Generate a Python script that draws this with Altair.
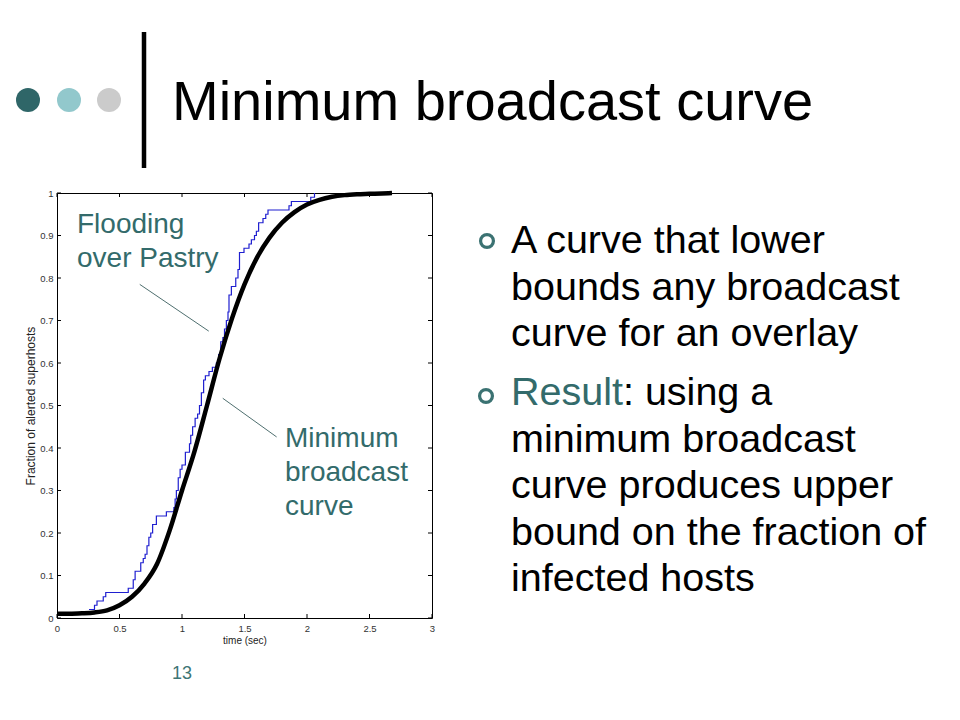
import altair as alt
import pandas as pd

# ---------------- data ----------------
# Minimum broadcast curve (thick black)
mbc_t = [0, 0.1, 0.2, 0.3, 0.4, 0.5, 0.6, 0.7, 0.8, 0.9, 1.0, 1.1, 1.2, 1.3,
         1.4, 1.5, 1.6, 1.7, 1.8, 1.9, 2.0, 2.1, 2.2, 2.3, 2.4, 2.5, 2.6, 2.68]
mbc_f = [0.010, 0.010, 0.011, 0.013, 0.018, 0.030, 0.050, 0.081, 0.127, 0.205,
         0.300, 0.392, 0.500, 0.610, 0.705, 0.785, 0.848, 0.895, 0.930, 0.955,
         0.973, 0.984, 0.991, 0.995, 0.997, 0.998, 0.999, 1.000]

# Flooding over Pastry (thin blue staircase)
flood_t = [0.256, 0.30, 0.32, 0.37, 0.39, 0.57, 0.61, 0.625, 0.67, 0.69, 0.705,
           0.72, 0.735, 0.75, 0.765, 0.795, 0.875, 0.935, 0.945, 0.955, 0.97,
           0.985, 1.0, 1.027, 1.06, 1.07, 1.085, 1.105, 1.125, 1.14, 1.155,
           1.173, 1.187, 1.216, 1.243, 1.275, 1.293, 1.31, 1.327, 1.34, 1.355,
           1.368, 1.376, 1.395, 1.43, 1.448, 1.46, 1.496, 1.536, 1.555, 1.58,
           1.595, 1.613, 1.648, 1.67, 1.688, 1.856, 1.875, 2.03, 2.06]
flood_f = [0.02, 0.03, 0.04, 0.05, 0.06, 0.07, 0.09, 0.11, 0.13, 0.14, 0.15,
           0.17, 0.19, 0.20, 0.22, 0.24, 0.25, 0.26, 0.28, 0.30, 0.33,
           0.35, 0.36, 0.39, 0.41, 0.43, 0.45, 0.47, 0.48, 0.50, 0.53,
           0.56, 0.57, 0.58, 0.59, 0.60, 0.62, 0.65, 0.66, 0.68, 0.70,
           0.72, 0.76, 0.78, 0.80, 0.82, 0.86, 0.87, 0.88, 0.89, 0.90,
           0.91, 0.93, 0.94, 0.95, 0.96, 0.97, 0.98, 0.99, 1.00]

x_ticks = [0, 0.5, 1, 1.5, 2, 2.5, 3]
y_ticks = [0, 0.1, 0.2, 0.3, 0.4, 0.5, 0.6, 0.7, 0.8, 0.9, 1]

# annotation leader lines (data units)
ann_x1 = [0.662, 1.326]
ann_y1 = [0.785, 0.517]
ann_x2 = [1.214, 1.757]
ann_y2 = [0.675, 0.426]

# texts
slide_title = "Minimum broadcast curve"
label_flood = ["Flooding", "over Pastry"]
label_min = ["Minimum", "broadcast", "curve"]
bullet1 = ["A curve that lower", "bounds any broadcast", "curve for an overlay"]
bullet2_head = "Result"
bullet2_first = ": using a"
bullet2_rest = ["minimum broadcast", "curve produces upper",
                "bound on the fraction of", "infected hosts"]
page_no = "13"
x_title = "time (sec)"
y_title = "Fraction of alerted superhosts"

# ---------------- layout ----------------
W, H = 375, 425          # plot area
LEFT, TOP = 57, 193      # page position of plot area
FONT = "Liberation Sans"
TEAL = "#336b6b"
LH = 46.5
BFS = 39.5               # bullet font size


def X(px):
    return px - LEFT


def Y(py):
    return py - TOP


one = pd.DataFrame({"k": [0]})


def text_layer(txt, x, y, size, color, lh=None):
    kw = dict(text=txt, align="left", baseline="alphabetic", font=FONT,
              fontSize=size, color=color)
    if lh is not None:
        kw["lineHeight"] = lh
    return alt.Chart(one).mark_text(**kw).encode(
        x=alt.value(X(x)), y=alt.value(Y(y)))


xs = alt.Scale(domain=[0, 3], nice=False, zero=False)
ys = alt.Scale(domain=[0, 1], nice=False, zero=False)

xaxis = alt.Axis(values=x_ticks, format="~g", ticks=False, tickSize=0,
                 domain=False, grid=False, labelFlush=False, labelOverlap=False,
                 labelPadding=5, labelFontSize=9.5, labelColor="#333333",
                 labelFont=FONT, title=x_title, titleFont=FONT,
                 titleFontSize=10, titleFontWeight="normal",
                 titleColor="#222222", titlePadding=3)
yaxis = alt.Axis(values=y_ticks, format="~g", ticks=False, tickSize=0,
                 domain=False, grid=False, labelFlush=False, labelOverlap=False,
                 labelPadding=4, labelFontSize=9.5, labelColor="#333333",
                 labelFont=FONT, title=y_title, titleFont=FONT,
                 titleFontSize=12, titleFontWeight="normal",
                 titleColor="#222222", titlePadding=2)

mbc_df = pd.DataFrame({"t": mbc_t, "f": mbc_f})
flood_df = pd.DataFrame({"t": flood_t, "f": flood_f})
xt_df = pd.DataFrame({"v": x_ticks})
yt_df = pd.DataFrame({"v": y_ticks})
ann_df = pd.DataFrame({"x1": ann_x1, "y1": ann_y1, "x2": ann_x2, "y2": ann_y2})

flood = alt.Chart(flood_df).mark_line(
    interpolate="step-after", color="#1f1fd0", strokeWidth=1.2
).encode(x=alt.X("t:Q", scale=xs, axis=xaxis),
         y=alt.Y("f:Q", scale=ys, axis=yaxis))

curve = alt.Chart(mbc_df).mark_line(
    interpolate="monotone", color="black", strokeWidth=4.5
).encode(x=alt.X("t:Q", scale=xs), y=alt.Y("f:Q", scale=ys))

tk = dict(color="black", strokeWidth=1)
xt_bot = alt.Chart(xt_df).mark_rule(**tk).encode(
    x=alt.X("v:Q", scale=xs), y=alt.value(H), y2=alt.value(H - 4))
xt_top = alt.Chart(xt_df).mark_rule(**tk).encode(
    x=alt.X("v:Q", scale=xs), y=alt.value(0), y2=alt.value(4))
yt_left = alt.Chart(yt_df).mark_rule(**tk).encode(
    y=alt.Y("v:Q", scale=ys), x=alt.value(0), x2=alt.value(4))
yt_right = alt.Chart(yt_df).mark_rule(**tk).encode(
    y=alt.Y("v:Q", scale=ys), x=alt.value(W), x2=alt.value(W - 4))

leaders = alt.Chart(ann_df).mark_rule(color="#4f6f6f", strokeWidth=1).encode(
    x=alt.X("x1:Q", scale=xs), y=alt.Y("y1:Q", scale=ys),
    x2="x2:Q", y2="y2:Q")

# slide decorations
dot_colors = ["#2f6668", "#92c8cc", "#cbcbcb"]
dot_layers = [
    alt.Chart(one).mark_circle(size=576, opacity=1, color=c).encode(
        x=alt.value(X(px)), y=alt.value(Y(100)))
    for c, px in zip(dot_colors, [28, 69, 109])
]
bar = alt.Chart(one).mark_rule(color="black", strokeWidth=4.5).encode(
    x=alt.value(X(144)), y=alt.value(Y(32)), y2=alt.value(Y(168)))

bul_layers = [
    alt.Chart(one).mark_point(shape="circle", size=165, filled=False,
                              strokeWidth=3.2, color="#3b7272", opacity=1).encode(
        x=alt.value(X(px)), y=alt.value(Y(py)))
    for px, py in [(487, 241), (486, 396)]
]

title = text_layer(slide_title, 172, 120, 56, "black")
t_flood = text_layer(label_flood, 77, 233, 28, TEAL, lh=34)
t_min = text_layer(label_min, 285, 447, 28, TEAL, lh=34)
t_b1 = text_layer(bullet1, 511, 253, BFS, "black", lh=LH)
t_b2h = text_layer(bullet2_head, 511, 405, BFS, TEAL)
t_b2f = text_layer(bullet2_first, 511 + BFS * 2.834, 405, BFS, "black")
t_b2r = text_layer(bullet2_rest, 511, 405 + LH, BFS, "black", lh=LH)
t_page = text_layer(page_no, 172, 679, 18, "#3d7575")

chart = alt.layer(
    flood, curve, xt_bot, xt_top, yt_left, yt_right, leaders,
    *dot_layers, bar, *bul_layers,
    title, t_flood, t_min, t_b1, t_b2h, t_b2f, t_b2r, t_page
).properties(
    width=W, height=H,
    padding={"left": LEFT - 8, "top": TOP - 8, "right": 505, "bottom": 80},
    autosize=alt.AutoSizeParams(type="none"),
    background="white",
).configure_view(stroke="black", strokeWidth=1)

chart.save("out.html", embed_options={"renderer": "svg", "actions": False})
